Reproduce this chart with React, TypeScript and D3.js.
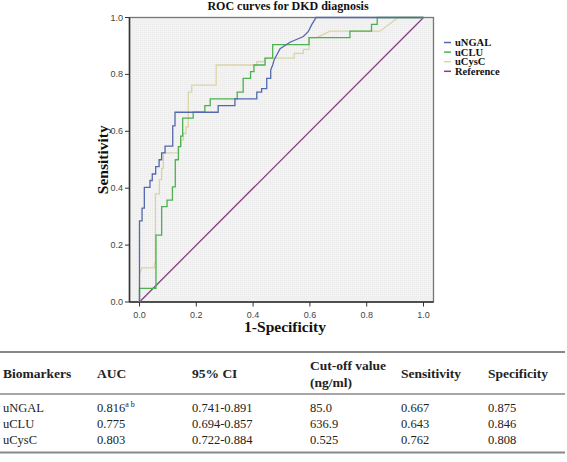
import React from "react";
import * as d3 from "d3";

const W = 567;
const H = 462;

const title = "ROC curves for DKD diagnosis";
const xLabel = "1-Specificity";
const yLabel = "Sensitivity";
const tickValues = [0, 0.2, 0.4, 0.6, 0.8, 1.0];

const uNGAL: [number, number][] = [
  [0, 0], [0, 0.285], [0.009, 0.285], [0.009, 0.33], [0.017, 0.33], [0.017, 0.403],
  [0.037, 0.403], [0.037, 0.427], [0.045, 0.427], [0.045, 0.45], [0.057, 0.45], [0.057, 0.476],
  [0.069, 0.476], [0.069, 0.5], [0.078, 0.5], [0.078, 0.524], [0.09, 0.524], [0.09, 0.548],
  [0.117, 0.548], [0.117, 0.619], [0.125, 0.619], [0.125, 0.667], [0.277, 0.667], [0.277, 0.69],
  [0.336, 0.69], [0.336, 0.714], [0.413, 0.714], [0.413, 0.738], [0.43, 0.738], [0.43, 0.75],
  [0.448, 0.75], [0.448, 0.786], [0.462, 0.786], [0.462, 0.815], [0.469, 0.833], [0.474, 0.851],
  [0.48, 0.862], [0.495, 0.89], [0.53, 0.913], [0.577, 0.933], [0.594, 0.95], [0.606, 0.974],
  [0.622, 1], [1, 1],
];

const uCLU: [number, number][] = [
  [0, 0], [0, 0.048], [0.058, 0.048], [0.058, 0.235], [0.078, 0.235], [0.078, 0.335],
  [0.097, 0.335], [0.097, 0.358], [0.116, 0.358], [0.116, 0.405], [0.126, 0.405], [0.126, 0.5],
  [0.137, 0.5], [0.137, 0.546], [0.145, 0.546], [0.145, 0.583], [0.152, 0.583], [0.152, 0.646],
  [0.189, 0.646], [0.189, 0.667], [0.23, 0.667], [0.23, 0.69], [0.249, 0.69], [0.249, 0.714],
  [0.344, 0.714], [0.344, 0.738], [0.365, 0.738], [0.365, 0.786], [0.391, 0.786], [0.391, 0.81],
  [0.403, 0.81], [0.403, 0.833], [0.442, 0.833], [0.442, 0.857], [0.469, 0.857], [0.469, 0.905],
  [0.597, 0.905], [0.597, 0.929], [0.741, 0.929], [0.741, 0.952], [0.817, 0.952], [0.817, 0.976],
  [0.837, 0.976], [0.837, 1], [1, 1],
];

const uCysC: [number, number][] = [
  [0, 0], [0, 0.095], [0.008, 0.12], [0.053, 0.12], [0.053, 0.136], [0.056, 0.136],
  [0.056, 0.38], [0.07, 0.38], [0.07, 0.43], [0.078, 0.43], [0.078, 0.47], [0.084, 0.47],
  [0.084, 0.524], [0.137, 0.524], [0.137, 0.546], [0.145, 0.546], [0.145, 0.569], [0.154, 0.569],
  [0.154, 0.593], [0.164, 0.593], [0.164, 0.616], [0.172, 0.616], [0.172, 0.738], [0.184, 0.738],
  [0.184, 0.762], [0.27, 0.762], [0.27, 0.833], [0.413, 0.833], [0.413, 0.845], [0.442, 0.845],
  [0.442, 0.857], [0.545, 0.857], [0.545, 0.874], [0.577, 0.874], [0.577, 0.888], [0.597, 0.888],
  [0.597, 0.929], [0.624, 0.929], [0.671, 0.952], [0.847, 0.952], [0.911, 1], [1, 1],
];

const reference: [number, number][] = [[0, 0], [1, 1]];

const seriesNames = ["uNGAL", "uCLU", "uCysC", "Reference"];
const seriesColors = ["#5468ad", "#4cb14f", "#dcd4a6", "#8b3b8e"];
const seriesData = [uNGAL, uCLU, uCysC, reference];

const tableHeaders = ["Biomarkers", "AUC", "95% CI", "Cut-off value", "Sensitivity", "Specificity"];
const biomarkers = ["uNGAL", "uCLU", "uCysC"];
const aucValues = ["0.816", "0.775", "0.803"];
const aucNotes = ["a b", "", ""];
const ciValues = ["0.741-0.891", "0.694-0.857", "0.722-0.884"];
const cutoffValues = ["85.0", "636.9", "0.525"];
const sensValues = ["0.667", "0.643", "0.762"];
const specValues = ["0.875", "0.846", "0.808"];

const SERIF = "'Liberation Serif', 'Times New Roman', Times, serif";
const SANS = "'Liberation Sans', Arial, Helvetica, sans-serif";

export default function App() {
  const x = d3.scaleLinear().domain([0, 1]).range([139.5, 423.5]);
  const y = d3.scaleLinear().domain([0, 1]).range([302, 17.5]);
  const line = d3
    .line<[number, number]>()
    .x((d) => x(d[0]))
    .y((d) => y(d[1]));

  const frame = { left: 129.5, right: 433.5, top: 17.5, bottom: 302 };
  const colX = [3, 97, 192, 310, 401, 488];
  const rowY = [412, 428, 444];

  return (
    <svg
      width={W}
      height={H}
      style={{ position: "absolute", left: 0, top: 0, background: "#fff" }}
    >
      <defs>
        <pattern id="stip" width="2" height="2" patternUnits="userSpaceOnUse">
          <rect width="2" height="2" fill="#f3f3f3" />
          <rect width="1" height="1" fill="#eaeaea" />
        </pattern>
      </defs>
      <text
        x={288}
        y={10}
        textAnchor="middle"
        fontFamily={SERIF}
        fontWeight="bold"
        fontSize={12}
        fill="#111"
      >
        {title}
      </text>
      <rect
        x={frame.left}
        y={frame.top}
        width={frame.right - frame.left}
        height={frame.bottom - frame.top}
        fill="url(#stip)"
        stroke="#777"
        strokeWidth={1.3}
      />
      <line x1={frame.left} x2={frame.left} y1={frame.top} y2={frame.bottom} stroke="#333" strokeWidth={1.5} />
      <line x1={frame.left} x2={frame.right} y1={frame.bottom} y2={frame.bottom} stroke="#333" strokeWidth={1.5} />
      {tickValues.map((t) => (
        <g key={"y" + t}>
          <line x1={125} x2={frame.left} y1={y(t)} y2={y(t)} stroke="#333" strokeWidth={1} />
          <text x={123} y={y(t) + 3} textAnchor="end" fontFamily={SANS} fontSize={9} fill="#444">
            {t.toFixed(1)}
          </text>
        </g>
      ))}
      {tickValues.map((t) => (
        <g key={"x" + t}>
          <line x1={x(t)} x2={x(t)} y1={frame.bottom} y2={frame.bottom + 4.5} stroke="#333" strokeWidth={1} />
          <text x={x(t)} y={317.5} textAnchor="middle" fontFamily={SANS} fontSize={9} fill="#444">
            {t.toFixed(1)}
          </text>
        </g>
      ))}
      <g>
        {[3, 2, 1, 0].map((i) => (
          <path
            key={seriesNames[i]}
            d={line(seriesData[i]) || ""}
            fill="none"
            stroke={seriesColors[i]}
            strokeWidth={1.3}
          />
        ))}
      </g>
      <text
        transform={`translate(108,${(frame.top + frame.bottom) / 2}) rotate(-90)`}
        textAnchor="middle"
        fontFamily={SERIF}
        fontWeight="bold"
        fontSize={15.5}
        fill="#111"
      >
        {yLabel}
      </text>
      <text
        x={285}
        y={332}
        textAnchor="middle"
        fontFamily={SERIF}
        fontWeight="bold"
        fontSize={15.5}
        fill="#111"
      >
        {xLabel}
      </text>
      {seriesNames.map((n, i) => (
        <g key={"lg" + n}>
          <line x1={444} x2={451} y1={42.5 + i * 9.6} y2={42.5 + i * 9.6} stroke={seriesColors[i]} strokeWidth={1.5} />
          <text x={455} y={46 + i * 9.6} fontFamily={SERIF} fontWeight="bold" fontSize={10.5} fill="#111">
            {n}
          </text>
        </g>
      ))}

      <line x1={0} x2={565} y1={352} y2={352} stroke="#888" strokeWidth={1.8} />
      <line x1={0} x2={565} y1={394} y2={394} stroke="#888" strokeWidth={1.5} />
      <line x1={0} x2={565} y1={452.5} y2={452.5} stroke="#888" strokeWidth={1.8} />
      {tableHeaders.map((h, i) =>
        i === 3 ? (
          <text key={h} x={colX[i]} fontFamily={SERIF} fontWeight="bold" fontSize={13.5} fill="#222">
            <tspan x={colX[i]} y={370}>{h}</tspan>
            <tspan x={colX[i]} y={387}>(ng/ml)</tspan>
          </text>
        ) : (
          <text key={h} x={colX[i]} y={378} fontFamily={SERIF} fontWeight="bold" fontSize={13.5} fill="#222">
            {h}
          </text>
        )
      )}
      {biomarkers.map((b, r) => (
        <g key={b} fontFamily={SERIF} fontSize={12.5} fill="#222">
          <text x={colX[0]} y={rowY[r]}>{b}</text>
          <text x={colX[1]} y={rowY[r]}>
            {aucValues[r]}
            {aucNotes[r] ? (
              <tspan dy={-5} fontSize={8}>{aucNotes[r]}</tspan>
            ) : null}
          </text>
          <text x={colX[2]} y={rowY[r]}>{ciValues[r]}</text>
          <text x={colX[3]} y={rowY[r]}>{cutoffValues[r]}</text>
          <text x={colX[4]} y={rowY[r]}>{sensValues[r]}</text>
          <text x={colX[5]} y={rowY[r]}>{specValues[r]}</text>
        </g>
      ))}
    </svg>
  );
}
